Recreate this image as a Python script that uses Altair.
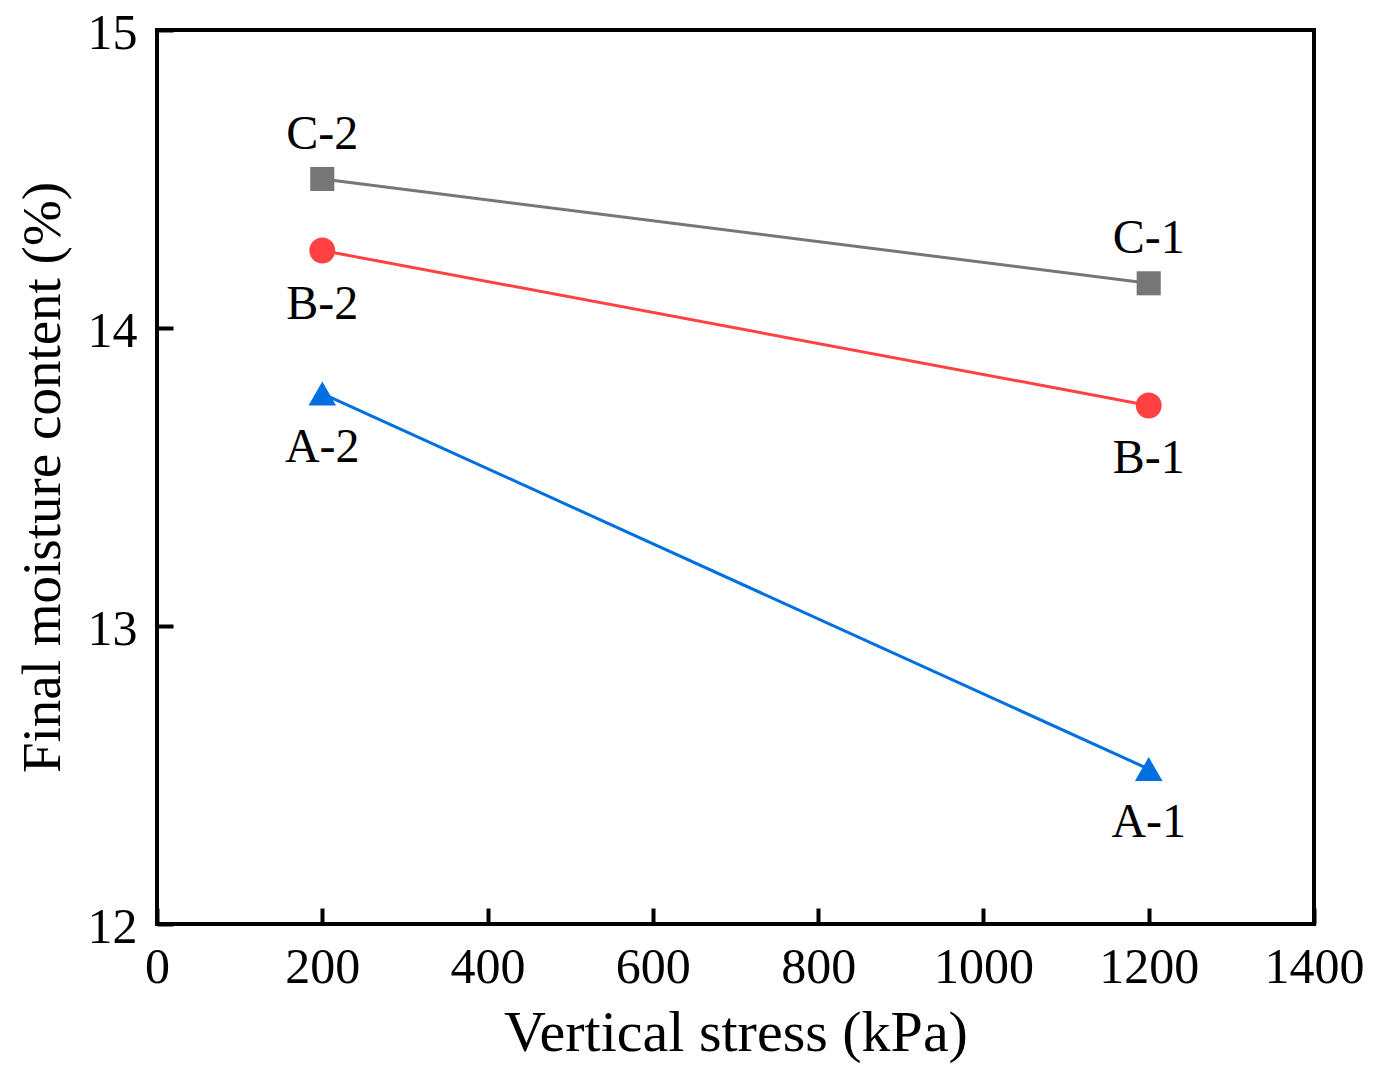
import altair as alt
import pandas as pd

# vertical stress (kPa) and final moisture content (%)
stress = [200, 1200]
moisture_a = [13.78, 12.52]
moisture_b = [14.26, 13.74]
moisture_c = [14.50, 14.15]
labels_a = ["A-2", "A-1"]
labels_b = ["B-2", "B-1"]
labels_c = ["C-2", "C-1"]
label_side_a = ["below", "below"]
label_side_b = ["below", "below"]
label_side_c = ["above", "above"]

series_names = ["A", "B", "C"]
series_colors = ["#0070E0", "#FF4141", "#767676"]
series_shapes = ["triangle-up", "circle", "square"]
series_sizes = [760, 580, 450]

x_ticks = [0, 200, 400, 600, 800, 1000, 1200, 1400]
y_ticks = [12, 13, 14, 15]

rows = []
for name, vals, labs, sides in [
    ("A", moisture_a, labels_a, label_side_a),
    ("B", moisture_b, labels_b, label_side_b),
    ("C", moisture_c, labels_c, label_side_c),
]:
    for s, v, lab, side in zip(stress, vals, labs, sides):
        rows.append({"stress": s, "moisture": v, "series": name, "label": lab, "side": side})
df = pd.DataFrame(rows)

FONT = "Liberation Serif"

x_enc = alt.X(
    "stress:Q",
    scale=alt.Scale(domain=[0, 1400], nice=False),
    axis=alt.Axis(values=x_ticks, format="d", title="Vertical stress (kPa)", offset=-16,
                  tickSize=16, labelPadding=18, titlePadding=12, titleFontSize=58),
)
y_enc = alt.Y(
    "moisture:Q",
    scale=alt.Scale(domain=[12, 15], nice=False, zero=False),
    axis=alt.Axis(values=y_ticks, format="d", title="Final moisture content (%)", offset=-16,
                  tickSize=16, labelPadding=20, labelOffset=3, titlePadding=16, titleFontSize=55),
)
color = alt.Color("series:N", scale=alt.Scale(domain=series_names, range=series_colors), legend=None)
shape = alt.Shape("series:N", scale=alt.Scale(domain=series_names, range=series_shapes), legend=None)
size = alt.Size("series:N", scale=alt.Scale(domain=series_names, range=series_sizes), legend=None)

base = alt.Chart(df)

lines = base.mark_line(strokeWidth=3).encode(x=x_enc, y=y_enc, color=color, detail="series:N")
points = base.mark_point(filled=True, opacity=1).encode(
    x=x_enc, y=y_enc, color=color, shape=shape, size=size
)

above = base.transform_filter(alt.datum.side == "above").mark_text(
    font=FONT, fontSize=48, color="black", dy=-44
).encode(x=x_enc, y=y_enc, text="label:N")
below = base.transform_filter(alt.datum.side == "below").mark_text(
    font=FONT, fontSize=48, color="black", dy=54
).encode(x=x_enc, y=y_enc, text="label:N")

chart = alt.layer(lines, points, above, below).properties(
    width=1157,
    height=894,
    autosize="none",
    padding={"left": 149, "top": 22, "right": 50, "bottom": 140},
).configure_view(
    stroke="black", strokeWidth=4
).configure_axis(
    domain=False, grid=False, tickColor="black", tickWidth=4,
    labelFont=FONT, labelFontSize=50, labelColor="black", labelFlush=False,
    titleFont=FONT, titleFontWeight="normal", titleColor="black",
)

chart.save("out.html", embed_options={"renderer": "svg", "actions": False})
